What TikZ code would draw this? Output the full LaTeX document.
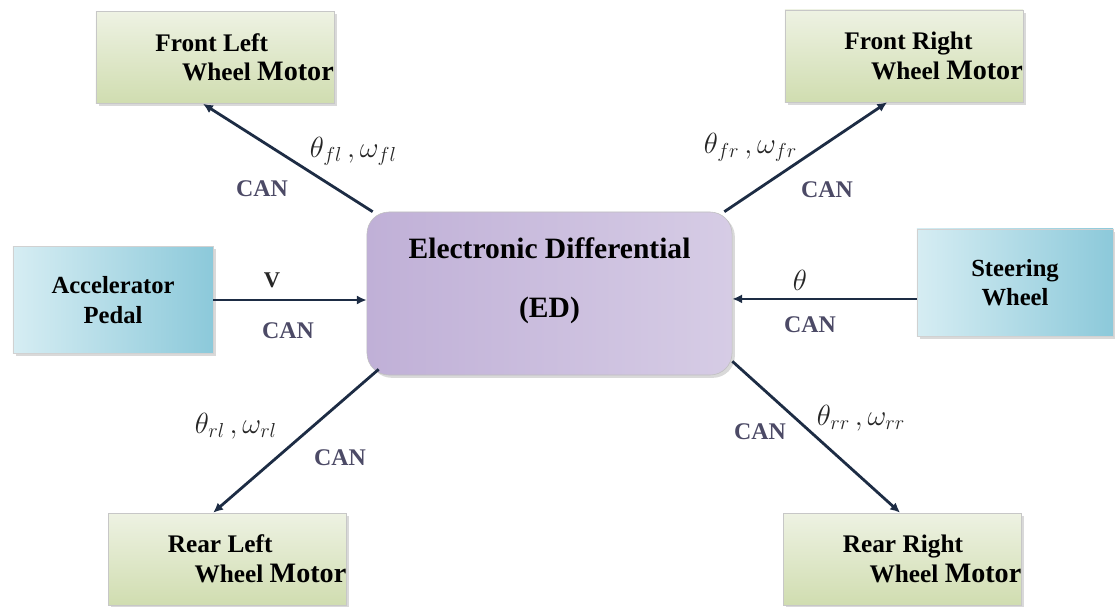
\documentclass[tikz,border=0pt]{standalone}
\usepackage{fontspec}
\setmainfont{Liberation Serif}
\usetikzlibrary{arrows.meta,shadows}

\definecolor{motorTop}{HTML}{EEF2E3}
\definecolor{motorBot}{HTML}{D0DDB0}
\definecolor{pedalL}{HTML}{D6EDF3}
\definecolor{pedalR}{HTML}{8CC9DA}
\definecolor{edL}{HTML}{C0B0D7}
\definecolor{edM}{HTML}{E6E0EF}
\definecolor{edR}{HTML}{D6CCE5}
\definecolor{lineC}{HTML}{1D2C44}
\definecolor{canC}{HTML}{4C4A66}

% two-line motor caption, second line indented
\newcommand\wheelmotor[1]{\hspace*{42pt}#1\\\hspace*{61pt}Wheel {\fontsize{20}{20}\selectfont Motor}}

\begin{document}
\begin{tikzpicture}[x=0.025cm,y=-0.025cm,
  motor/.style={draw=black!22,top color=motorTop,bottom color=motorBot,
    drop shadow={opacity=.3,shadow xshift=2pt,shadow yshift=-2pt},
    minimum width=5.95cm,minimum height=2.3cm,inner sep=0pt,align=left,
    font=\fontsize{18}{21}\selectfont\bfseries},
  sensor/.style={draw=black!18,left color=pedalL,right color=pedalR,
    drop shadow={opacity=.3,shadow xshift=2pt,shadow yshift=-2pt},
    minimum height=2.68cm,inner sep=0pt,align=center,
    font=\fontsize{17.5}{21}\selectfont\bfseries},
  ctrl/.style={draw=black!25,rounded corners=0.55cm,left color=edL,middle color=edM,right color=edR,
    drop shadow={opacity=.3,shadow xshift=2pt,shadow yshift=-2pt},
    minimum width=9.125cm,minimum height=4.075cm,inner sep=0pt,
    font=\fontsize{21}{25}\selectfont\bfseries},
  sig/.style={line width=2pt,draw=lineC,-{Latex[length=7pt,width=6.5pt]}},
  can/.style={text=canC,font=\fontsize{17}{17}\selectfont\bfseries},
  val/.style={text=black!85,font=\fontsize{20}{20}\selectfont}]
  \useasboundingbox (0,0) rectangle (1115,606);
  % Controller in the middle.
  \node[ctrl] (ed) at (549.5,293.5)
    {\raisebox{4pt}[0pt][0pt]{\begin{tabular}{@{}c@{}}Electronic Differential\\[17pt](ED)\end{tabular}}};
  % The four wheel motors.
  \foreach \n/\x/\y/\t in {fl/215/57.5/Front Left,fr/904/56/Front Right,
                           rl/227.5/559/Rear Left,rr/902.5/559/Rear Right}
    \node[motor] (\n) at (\x,\y) {\wheelmotor{\t}};
  % Driver inputs.
  \node[sensor,minimum width=5cm] (acc) at (113,300) {Accelerator\\Pedal};
  \node[sensor,minimum width=4.9cm] (sw) at (1015,282.5) {Steering\\Wheel};
  % Signal lines.
  \draw[sig] (acc.east) -- (acc.east -| ed.west);
  \draw[sig] ([yshift=-0.41cm]sw.west) coordinate (swin) -- (swin -| ed.east);
  \draw[sig] ([xshift=0.15cm]ed.north west) -- ([xshift=-0.3cm]fl.south);
  \draw[sig] ([xshift=-0.2cm]ed.north east) -- ([xshift=-0.42cm]fr.south);
  \draw[sig] ([xshift=0.3cm,yshift=0.15cm]ed.south west) -- ([xshift=-0.36cm]rl.north);
  \draw[sig] ([yshift=0.35cm]ed.south east) -- ([xshift=-0.06cm]rr.north);
  % Bus labels.
  \foreach \x/\y [count=\i] in {262/189,827/190,288/331,810/325,340/458,760/432}
    \node[can] (can\i) at (\x,\y) {CAN};
  % Transmitted quantities.
  \node[val,anchor=base west] (qfl) at (305,157) {$\theta_{fl}\,,\omega_{fl}$};
  \node[val,anchor=base west] (qfr) at (699,153) {$\theta_{fr}\,,\omega_{fr}$};
  \node[val,anchor=base west] (qrl) at (190,433) {$\theta_{rl}\,,\omega_{rl}$};
  \node[val,anchor=base west] (qrr) at (812,425) {$\theta_{rr}\,,\omega_{rr}$};
  \node[val] (qth) at (800,280) {$\theta$};
  \node[text=black!85,font=\fontsize{16}{16}\selectfont\bfseries] (qv) at (272,280) {V};
\end{tikzpicture}
\end{document}
